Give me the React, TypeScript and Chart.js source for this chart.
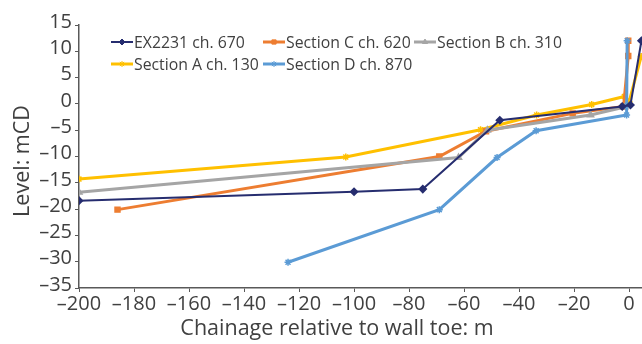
import React, { useEffect, useRef } from 'react';
import { Chart, registerables } from 'chart.js';
import { drawPoint } from 'chart.js/helpers';

Chart.register(...registerables);

// ---- data ----
const seriesNames = [
  'EX2231 ch. 670',
  'Section C ch. 620',
  'Section B ch. 310',
  'Section A ch. 130',
  'Section D ch. 870',
];

const ex2231X = [-200, -100, -75, -47, -2.5, 0.5, 4.5];
const ex2231Y = [-18.4, -16.7, -16.2, -3.1, -0.5, -0.2, 12];

const sectionCX = [-186, -69, -52, -20.5, -2, -0.3, -0.3];
const sectionCY = [-20.1, -10, -5.2, -1.8, -0.5, 9.1, 12];

const sectionBX = [-200, -62, -51.5, -14, -1.5];
const sectionBY = [-16.8, -10.2, -5, -2.1, -0.6];

const sectionAX = [-200, -103, -54, -33.6, -13.6, -1.7, 0, 4.4];
const sectionAY = [-14.3, -10.1, -4.9, -2.1, -0.1, 1.4, 0.4, 9];

const sectionDX = [-124, -69, -48, -33.8, -0.9, -0.7];
const sectionDY = [-30.1, -20.1, -10.2, -5.1, -2.1, 12];

const xTicks = [-200, -180, -160, -140, -120, -100, -80, -60, -40, -20, 0];
const yTicks = [-35, -30, -25, -20, -15, -10, -5, 0, 5, 10, 15];

const xTitle = 'Chainage relative to wall toe: m';
const yTitle = 'Level: mCD';

const seriesColors = ['#262d6f', '#ed7d31', '#a5a5a5', '#ffc000', '#5b9bd5'];
const seriesMarkers = ['rectRot', 'rect', 'triangle', 'star', 'star'];
const drawOrder = [0, 3, 2, 4, 1];

const toPts = (xs: number[], ys: number[]) => xs.map((x, i) => ({ x, y: ys[i] }));

const fmt = (v: number) => (v < 0 ? '\u2013' + Math.abs(v) : String(v));

const FONT = '"Open Sans", "Noto Sans", sans-serif';
const TEXT = '#404040';

const legendPlugin = {
  id: 'customLegend',
  afterDraw(chart: any) {
    const ctx = chart.ctx;
    const pos = [
      [111, 42],
      [263, 42],
      [414, 42],
      [111, 64],
      [263, 64],
    ];
    chart.data.datasets.forEach((ds: any, i: number) => {
      const [x, y] = pos[i];
      ctx.save();
      ctx.strokeStyle = ds.borderColor;
      ctx.fillStyle = ds.borderColor;
      ctx.lineWidth = ds.borderWidth;
      ctx.beginPath();
      ctx.moveTo(x, y);
      ctx.lineTo(x + 22, y);
      ctx.stroke();
      ctx.lineWidth = 1;
      drawPoint(ctx, { pointStyle: ds.pointStyle, radius: 3, rotation: 0, borderWidth: 1 } as any, x + 11, y);
      ctx.fillStyle = TEXT;
      ctx.font = '15.8px ' + FONT;
      ctx.textBaseline = 'middle';
      ctx.textAlign = 'left';
      ctx.fillText(ds.label, x + 23, y + 1);
      ctx.restore();
    });

    // axis titles
    ctx.save();
    ctx.fillStyle = TEXT;
    ctx.font = '21.5px ' + FONT;
    ctx.textAlign = 'center';
    ctx.textBaseline = 'middle';
    ctx.fillText(xTitle, 337, 329);
    ctx.translate(23, 161);
    ctx.rotate(-Math.PI / 2);
    ctx.fillText(yTitle, 0, 0);
    ctx.restore();
  },
};

export default function App() {
  const ref = useRef<HTMLCanvasElement>(null);
  useEffect(() => {
    if (!ref.current) return;
    const xsList = [ex2231X, sectionCX, sectionBX, sectionAX, sectionDX];
    const ysList = [ex2231Y, sectionCY, sectionBY, sectionAY, sectionDY];
    const chart = new Chart(ref.current, {
      type: 'line',
      data: {
        datasets: seriesNames.map((name, i) => ({
          label: name,
          data: toPts(xsList[i], ysList[i]),
          borderColor: seriesColors[i],
          backgroundColor: seriesColors[i],
          borderWidth: i === 0 ? 2 : 3,
          pointStyle: seriesMarkers[i] as any,
          pointRadius: 3.5,
          pointBorderWidth: 1.5,
          tension: 0,
          fill: false,
          order: drawOrder[i],
        })),
      },
      options: {
        animation: false,
        responsive: true,
        maintainAspectRatio: false,
        layout: { autoPadding: false, padding: { top: 25, right: 0, left: 0, bottom: 0 } },
        plugins: {
          legend: { display: false },
          tooltip: { enabled: false },
        },
        scales: {
          x: {
            type: 'linear',
            min: -200,
            max: 4.7,
            afterBuildTicks: (s: any) => {
              s.ticks = xTicks.map((v) => ({ value: v }));
            },
            afterFit: (s: any) => {
              s.height = 56;
              s.paddingRight = 0;
              s.paddingLeft = 0;
            },
            grid: { display: true, drawOnChartArea: false, drawTicks: true, tickLength: 4, color: '#595959' },
            border: { display: true, color: '#595959', width: 1.5 },
            ticks: {
              color: TEXT,
              font: { family: FONT, size: 20 },
              padding: 0,
              maxRotation: 0,
              autoSkip: false,
              callback: (v: any) => fmt(Number(v)),
            },
            title: { display: false },
          },
          y: {
            type: 'linear',
            min: -35,
            max: 15,
            afterBuildTicks: (s: any) => {
              s.ticks = yTicks.map((v) => ({ value: v }));
            },
            afterFit: (s: any) => {
              s.width = 79;
              s.paddingTop = 0;
              s.paddingBottom = 0;
            },
            grid: { display: true, drawOnChartArea: false, drawTicks: true, tickLength: 4, color: '#595959' },
            border: { display: true, color: '#595959', width: 1.5 },
            ticks: {
              color: TEXT,
              font: { family: FONT, size: 20 },
              padding: 3,
              labelOffset: -3,
              autoSkip: false,
              callback: (v: any) => fmt(Number(v)),
            },
            title: { display: false },
          },
        },
      },
      plugins: [legendPlugin],
    });
    return () => chart.destroy();
  }, []);
  return (
    <div style={{ position: 'fixed', left: 0, top: 0, width: 642, height: 344, background: '#fff' }}>
      <canvas ref={ref} />
    </div>
  );
}
